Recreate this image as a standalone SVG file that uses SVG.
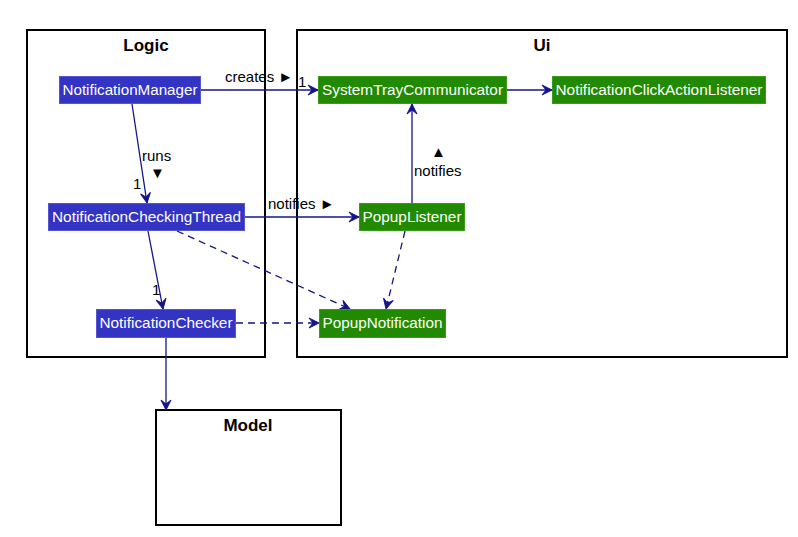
<svg xmlns="http://www.w3.org/2000/svg" width="798" height="537" viewBox="0 0 798 537">
  <style>
    .pkg { fill: #ffffff; stroke: #000000; stroke-width: 2; }
    .pkg-title { font-family: "Liberation Sans", Arial, sans-serif; font-size: 17px; font-weight: bold; fill: #000000; text-anchor: middle; }
    .logic rect { fill: #3333C4; stroke: #5555D0; stroke-width: 1; }
    .ui rect { fill: #228A00; stroke: #3A9A1A; stroke-width: 1; }
    .node text { font-family: "Liberation Sans", Arial, sans-serif; font-size: 14px; fill: #ffffff; text-anchor: middle; }
    .edge { fill: none; stroke: #15158A; stroke-width: 1.3; }
    .dashed { stroke-dasharray: 7 5; }
    .lbl { font-family: "Liberation Sans", Arial, sans-serif; font-size: 15px; fill: #000000; }
  </style>
  <defs>
    <marker id="arrow" markerUnits="userSpaceOnUse" markerWidth="14" markerHeight="12" refX="0" refY="0" viewBox="-12 -6 14 12" orient="auto" overflow="visible">
      <path d="M0,0 L-10,-5 L-6,0 L-10,5 Z" fill="#15158A" stroke="#15158A" stroke-width="1" stroke-linejoin="miter"/>
    </marker>
  </defs>

  <rect width="798" height="537" fill="#ffffff"/>

  <!-- packages -->
  <g id="pkg-logic">
    <rect class="pkg" x="27" y="30" width="238" height="327"/>
    <text class="pkg-title" x="146" y="51">Logic</text>
  </g>
  <g id="pkg-ui">
    <rect class="pkg" x="297" y="30" width="490" height="327"/>
    <text class="pkg-title" x="542" y="51">Ui</text>
  </g>
  <g id="pkg-model">
    <rect class="pkg" x="156" y="410" width="185" height="115"/>
    <text class="pkg-title" x="248" y="431">Model</text>
  </g>

  <!-- connectors -->
  <g id="connectors">
    <path class="edge" d="M200,90 L318,90" marker-end="url(#arrow)"/>
    <path class="edge" d="M506,90 L552,90" marker-end="url(#arrow)"/>
    <path class="edge" d="M132,104 L147,203" marker-end="url(#arrow)"/>
    <path class="edge" d="M244,217 L359,217" marker-end="url(#arrow)"/>
    <path class="edge" d="M412,203 L412,104" marker-end="url(#arrow)"/>
    <path class="edge" d="M148,231 L163,309" marker-end="url(#arrow)"/>
    <path class="edge dashed" d="M177,231 L350,309" marker-end="url(#arrow)"/>
    <path class="edge dashed" d="M405,231 L386,309" marker-end="url(#arrow)"/>
    <path class="edge dashed" d="M236,323 L319,323" marker-end="url(#arrow)"/>
    <path class="edge" d="M166,338 L166,410" marker-end="url(#arrow)"/>

    <text class="lbl" x="225" y="82">creates ►</text>
    <text class="lbl" x="298" y="87">1</text>
    <text class="lbl" x="142" y="161">runs</text>
    <text class="lbl" x="150" y="178">▼</text>
    <text class="lbl" x="133" y="189">1</text>
    <text class="lbl" x="268" y="209">notifies ►</text>
    <text class="lbl" x="431" y="157">▲</text>
    <text class="lbl" x="414" y="176">notifies</text>
    <text class="lbl" x="152" y="295">1</text>
  </g>

  <!-- Logic nodes -->
  <g id="NotificationManager" class="node logic">
    <rect x="59.5" y="76.5" width="141" height="27"/>
    <text x="130" y="95" textLength="135" lengthAdjust="spacingAndGlyphs">NotificationManager</text>
  </g>
  <g id="NotificationCheckingThread" class="node logic">
    <rect x="48.5" y="203.5" width="196" height="27"/>
    <text x="146.5" y="222" textLength="189" lengthAdjust="spacingAndGlyphs">NotificationCheckingThread</text>
  </g>
  <g id="NotificationChecker" class="node logic">
    <rect x="96.5" y="309.5" width="139" height="28"/>
    <text x="166" y="328" textLength="133" lengthAdjust="spacingAndGlyphs">NotificationChecker</text>
  </g>

  <!-- Ui nodes -->
  <g id="SystemTrayCommunicator" class="node ui">
    <rect x="318.5" y="76.5" width="188" height="27"/>
    <text x="412.5" y="95" textLength="181" lengthAdjust="spacingAndGlyphs">SystemTrayCommunicator</text>
  </g>
  <g id="NotificationClickActionListener" class="node ui">
    <rect x="552.5" y="76.5" width="213" height="27"/>
    <text x="659" y="95" textLength="207" lengthAdjust="spacingAndGlyphs">NotificationClickActionListener</text>
  </g>
  <g id="PopupListener" class="node ui">
    <rect x="359.5" y="203.5" width="105" height="27"/>
    <text x="412" y="222" textLength="99" lengthAdjust="spacingAndGlyphs">PopupListener</text>
  </g>
  <g id="PopupNotification" class="node ui">
    <rect x="319.5" y="309.5" width="126" height="28"/>
    <text x="382.5" y="328" textLength="120" lengthAdjust="spacingAndGlyphs">PopupNotification</text>
  </g>
</svg>
